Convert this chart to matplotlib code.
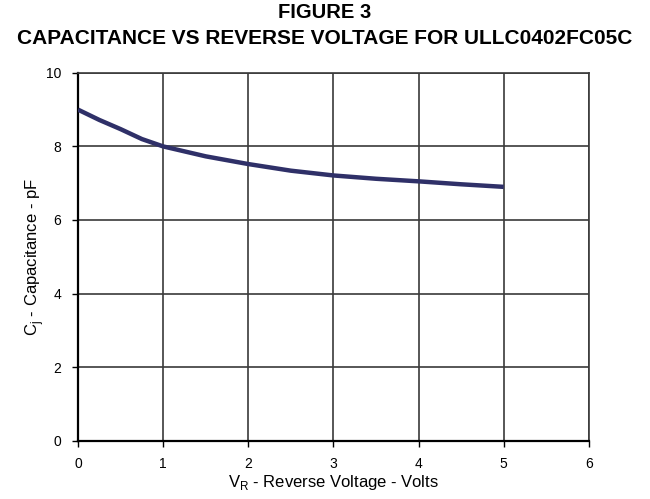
import numpy as np
import matplotlib
matplotlib.use("Agg")
import matplotlib.pyplot as plt

plt.rcParams['font.family'] = ['Liberation Sans', 'DejaVu Sans']

# values
volts = [0, 0.25, 0.5, 0.75, 1.0, 1.5, 2.0, 2.5, 3.0, 3.5, 4.0, 4.5, 5.0]
cap_pf = [9.0, 8.72, 8.47, 8.2, 8.0, 7.73, 7.52, 7.34, 7.21, 7.12, 7.05, 6.97, 6.9]
xticks = [0, 1, 2, 3, 4, 5, 6]
yticks = [0, 2, 4, 6, 8, 10]

fig = plt.figure(figsize=(6.5, 4.99), dpi=100)
ax = fig.add_axes([0.12, 0.117, 0.786, 0.737])

ax.plot(volts, cap_pf, color='#2f3068', lw=3.2, solid_capstyle='butt', zorder=3)

ax.set_xlim(0, 6)
ax.set_ylim(0, 10)
ax.set_xticks(xticks)
ax.set_yticks(yticks)
ax.tick_params(direction='out', length=4, width=1, labelsize=10, pad=8)
ax.grid(True, color='#3a3a3a', lw=1.2)
for s in ['left', 'bottom']:
    ax.spines[s].set_linewidth(1.6)
    ax.spines[s].set_color('black')
for s in ['top', 'right']:
    ax.spines[s].set_linewidth(1.2)
    ax.spines[s].set_color('#3a3a3a')

ax.set_xlabel('V$_\\mathregular{R}$ - Reverse Voltage - Volts', fontsize=12, labelpad=1)
ax.set_ylabel('C$_\\mathregular{j}$ - Capacitance - pF', fontsize=12, labelpad=0)

fig.text(0.5, 0.964, 'FIGURE 3', ha='center', va='baseline', fontsize=14.5, fontweight='bold')
fig.text(0.5, 0.912, 'CAPACITANCE VS REVERSE VOLTAGE FOR ULLC0402FC05C', ha='center', va='baseline',
         fontsize=15, fontweight='bold')

fig.savefig('out.png', dpi=100)
